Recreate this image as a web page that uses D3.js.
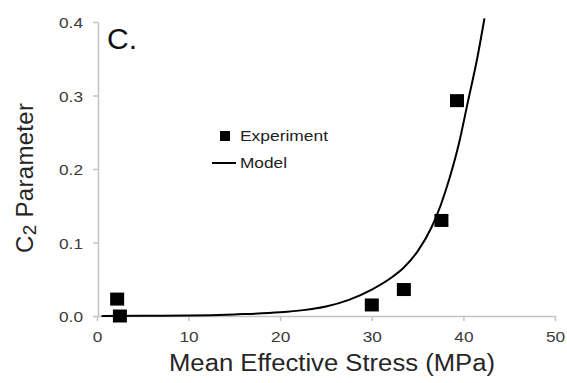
<!DOCTYPE html>
<html>
<head>
<meta charset="utf-8">
<script src="https://cdn.jsdelivr.net/npm/d3@7"></script>
<style>
  html, body { margin: 0; padding: 0; background: #fff; }
  svg { display: block; font-family: "Liberation Sans", Arial, sans-serif; }
</style>
</head>
<body>
<svg id="chart" width="567" height="383"></svg>
<script>
// ---- data ----
const expStress = [2.2, 2.5, 30.0, 33.5, 37.6, 39.3];
const expC2     = [0.023, 0.0, 0.015, 0.036, 0.130, 0.293];

const modelStress = [0.5, 5, 10, 15, 20, 22.5, 25, 27.5, 30, 32, 33.5, 35, 36.5, 37.5, 38.5, 39.5, 40.5, 41.5, 42.3];
const modelC2     = [0.0001, 0.0003, 0.0007, 0.0022, 0.005, 0.008, 0.013, 0.022, 0.036, 0.051, 0.066, 0.088, 0.12, 0.15, 0.188, 0.234, 0.292, 0.35, 0.405];

const xTicks = [0, 10, 20, 30, 40, 50];
const yTicks = [0.0, 0.1, 0.2, 0.3, 0.4];
const xTitle = "Mean Effective Stress (MPa)";
const yTitleMain = "C";
const yTitleSub = "2";
const yTitleRest = " Parameter";
const panelLabel = "C.";
const legendLabels = ["Experiment", "Model"];

// ---- layout ----
const svg = d3.select("#chart");
const x = d3.scaleLinear().domain([0, 50]).range([97, 555]);
const y = d3.scaleLinear().domain([0, 0.4]).range([316, 22]);
const axisColor = "#c4c4c4";
const tickTextColor = "#3a3a3a";
const stretch = 1.15;

function stretchText(sel, factor) {
  sel.each(function() {
    const w = this.getComputedTextLength();
    d3.select(this).attr("textLength", w * factor).attr("lengthAdjust", "spacingAndGlyphs");
  });
}

// x axis
const gx = svg.append("g").attr("transform", `translate(0,${y(0)})`)
  .call(d3.axisBottom(x).tickValues(xTicks).tickFormat(d3.format("d")).tickSize(5).tickPadding(10).tickSizeOuter(0));
gx.select(".domain").attr("stroke", axisColor).attr("stroke-width", 1.5);
gx.selectAll(".tick line").attr("stroke", axisColor).attr("stroke-width", 1.5);
gx.selectAll(".tick text").attr("fill", tickTextColor).attr("font-size", 15).attr("font-family", "Liberation Sans, Arial, sans-serif");
stretchText(gx.selectAll(".tick text"), stretch);

// y axis
const gy = svg.append("g").attr("transform", `translate(${x(0) + 1},0)`)
  .call(d3.axisLeft(y).tickValues(yTicks).tickFormat(d3.format(".1f")).tickSize(5).tickPadding(10).tickSizeOuter(0));
gy.select(".domain").attr("stroke", axisColor).attr("stroke-width", 1.5);
gy.selectAll(".tick line").attr("stroke", axisColor).attr("stroke-width", 1.5);
gy.selectAll(".tick text").attr("fill", tickTextColor).attr("font-size", 15).attr("font-family", "Liberation Sans, Arial, sans-serif").attr("dy", "0.38em");
stretchText(gy.selectAll(".tick text"), stretch);

// model curve
const line = d3.line().x((d, i) => x(modelStress[i])).y((d, i) => y(modelC2[i])).curve(d3.curveMonotoneX);
svg.append("path").datum(modelC2).attr("d", line)
  .attr("fill", "none").attr("stroke", "#000").attr("stroke-width", 2);

// experiment squares
const sw = 14, sh = 13;
svg.append("g").selectAll("rect").data(expC2).join("rect")
  .attr("x", (d, i) => x(expStress[i]) - sw / 2)
  .attr("y", d => y(d) - sh / 2)
  .attr("width", sw).attr("height", sh).attr("fill", "#000");

// legend
const leg = svg.append("g");
leg.append("rect").attr("x", 220).attr("y", 131).attr("width", 10).attr("height", 10).attr("fill", "#000");
leg.append("line").attr("x1", 212).attr("x2", 236).attr("y1", 163).attr("y2", 163).attr("stroke", "#000").attr("stroke-width", 2);
leg.append("text").attr("x", 240).attr("y", 141).attr("font-size", 15).attr("fill", "#222")
  .attr("textLength", 88).attr("lengthAdjust", "spacingAndGlyphs").text(legendLabels[0]);
leg.append("text").attr("x", 240).attr("y", 168).attr("font-size", 15).attr("fill", "#222")
  .attr("textLength", 47).attr("lengthAdjust", "spacingAndGlyphs").text(legendLabels[1]);

// panel label
svg.append("text").attr("x", 107).attr("y", 49).attr("font-size", 30).attr("fill", "#111").text(panelLabel);

// x title
svg.append("text").attr("x", 169).attr("y", 371).attr("font-size", 23).attr("fill", "#262626")
  .attr("textLength", 326).attr("lengthAdjust", "spacingAndGlyphs").text(xTitle);

// y title
const yt = svg.append("text").attr("transform", "translate(33,253) rotate(-90)")
  .attr("font-size", 24).attr("fill", "#262626").attr("text-anchor", "start").attr("letter-spacing", 0.3);
yt.append("tspan").text(yTitleMain);
yt.append("tspan").attr("font-size", 19).attr("dy", 3).text(yTitleSub);
yt.append("tspan").attr("dy", -3).text(yTitleRest);
</script>
</body>
</html>
